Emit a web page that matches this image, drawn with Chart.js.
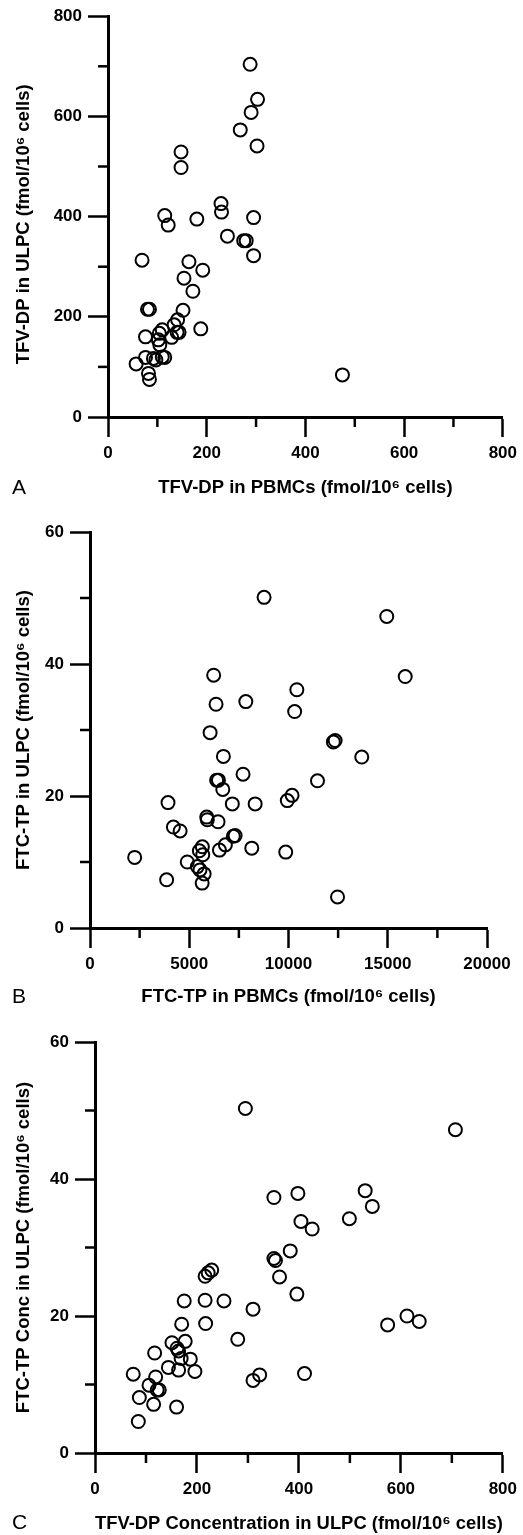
<!DOCTYPE html>
<html>
<head>
<meta charset="utf-8">
<script src="https://cdn.jsdelivr.net/npm/chart.js@4.4.1/dist/chart.umd.min.js"></script>
<style>
  body { margin: 0; background: #fff; }
  .panel { position: absolute; left: 0; width: 523px; }
  .letter { position: absolute; left: 12px; font: 21px "Liberation Sans", Arial, sans-serif; color: #000; }
</style>
</head>
<body>
<div class="panel" style="top:0;height:505px"><canvas id="chartA" width="523" height="505"></canvas></div>
<div class="panel" style="top:505px;height:505px"><canvas id="chartB" width="523" height="505"></canvas></div>
<div class="panel" style="top:1010px;height:525px"><canvas id="chartC" width="523" height="525"></canvas></div>
<div class="letter" style="top:475px">A</div>
<div class="letter" style="top:984px">B</div>
<div class="letter" style="top:1510px">C</div>
<script>
// Panel A: TFV-DP, PBMCs vs ULPC
const aPbmc = [288, 303, 290, 268, 302, 148, 148, 229, 230, 115, 122, 180, 295, 242, 275, 280, 295, 69, 164, 192, 154, 172, 80, 84, 152, 141, 134, 188, 140, 144, 110, 104, 129, 76, 102, 105, 110, 115, 76, 92, 97, 57, 82, 84, 475];
const aUlpc = [704, 634, 608, 573, 541, 529, 498, 426, 409, 402, 383, 395, 398, 361, 352, 352, 322, 313, 310, 293, 277, 251, 215, 215, 213, 194, 184, 176, 169, 169, 174, 167, 159, 160, 154, 144, 120, 119, 119, 117, 114, 106, 87, 75, 84];

// Panel B: FTC-TP, PBMCs vs ULPC
const bPbmc = [8770, 14950, 15880, 6230, 10420, 6350, 7850, 10310, 6050, 12260, 12350, 6720, 13690, 7710, 6380, 6470, 11460, 6690, 3930, 7170, 8320, 9940, 10180, 5880, 5910, 6450, 4200, 4540, 7220, 7310, 6820, 5660, 5510, 6520, 8150, 9860, 5680, 2250, 4900, 5410, 5540, 5750, 3860, 5650, 12470];
const bUlpc = [50.1, 47.2, 38.1, 38.3, 36.1, 33.9, 34.3, 32.8, 29.6, 28.2, 28.4, 26.0, 25.9, 23.3, 22.4, 22.4, 22.3, 21.0, 19.0, 18.8, 18.8, 19.3, 20.1, 16.8, 16.4, 16.1, 15.3, 14.7, 13.9, 14.0, 12.6, 12.3, 11.7, 11.8, 12.1, 11.5, 11.1, 10.7, 10.0, 9.3, 8.8, 8.2, 7.3, 6.8, 4.7];

// Panel C: TFV-DP vs FTC-TP, both in ULPC
const cTfv = [295, 707, 398, 530, 351, 544, 404, 426, 499, 383, 351, 354, 216, 222, 229, 362, 396, 175, 216, 253, 310, 612, 636, 574, 170, 217, 280, 151, 177, 161, 164, 117, 169, 187, 144, 164, 196, 75, 119, 411, 323, 310, 106, 122, 126, 87, 115, 160, 85];
const cFtc = [50.3, 47.2, 37.9, 38.3, 37.3, 36.0, 33.8, 32.7, 34.2, 29.5, 28.4, 28.1, 25.8, 26.3, 26.7, 25.7, 23.2, 22.2, 22.3, 22.2, 21.0, 20.0, 19.2, 18.7, 18.8, 18.9, 16.6, 16.1, 16.3, 15.3, 14.9, 14.6, 13.8, 13.7, 12.5, 12.1, 11.9, 11.5, 11.1, 11.6, 11.4, 10.6, 9.9, 9.2, 9.2, 8.1, 7.1, 6.7, 4.6];

const FONT = '"Liberation Sans", Arial, sans-serif';

// short ticks halfway between the labelled ones
const minorTicks = {
  id: 'minorTicks',
  afterDraw(chart) {
    const ctx = chart.ctx;
    ctx.save();
    ctx.strokeStyle = '#000';
    ctx.lineWidth = 2.5;
    ['x', 'y'].forEach(id => {
      const s = chart.scales[id];
      for (let i = 0; i < s.ticks.length - 1; i++) {
        const p = s.getPixelForValue((s.ticks[i].value + s.ticks[i + 1].value) / 2);
        ctx.beginPath();
        if (id === 'x') { ctx.moveTo(p, s.top); ctx.lineTo(p, s.top + 10); }
        else { ctx.moveTo(s.right, p); ctx.lineTo(s.right - 10, p); }
        ctx.stroke();
      }
    });
    ctx.restore();
  }
};

function axis(max, step, title, titlePad, extra) {
  return Object.assign({
    type: 'linear',
    min: 0,
    max: max,
    border: { display: true, color: '#000', width: 3 },
    grid: { drawOnChartArea: false, drawTicks: true, tickLength: 20, tickWidth: 2.5, tickColor: '#000' },
    ticks: {
      stepSize: step, color: '#000', padding: 6,
      font: { family: FONT, size: 17, weight: 'bold' },
      callback: v => String(v)
    },
    title: {
      display: true, text: title, color: '#000', padding: titlePad,
      font: { family: FONT, size: 18.5, weight: 'bold' }
    }
  }, extra);
}

function makePanel(id, xs, ys, o) {
  return new Chart(id, {
    type: 'scatter',
    data: {
      datasets: [{
        data: xs.map((x, i) => ({ x: x, y: ys[i] })),
        pointStyle: 'circle',
        pointRadius: 6.5,
        pointBorderWidth: 2,
        borderColor: '#000',
        backgroundColor: 'rgba(0,0,0,0)'
      }]
    },
    options: {
      responsive: false,
      animation: false,
      layout: { padding: { top: o.top, right: o.right, left: 0, bottom: 0 } },
      plugins: { legend: { display: false }, tooltip: { enabled: false } },
      scales: {
        x: axis(o.xMax, o.xStep, o.xTitle, { top: 4, bottom: o.xTitlePad }, {
          afterFit: s => { s.height = o.xHeight; }
        }),
        y: axis(o.yMax, o.yStep, o.yTitle, { top: 13, bottom: 4 }, {
          afterFit: s => { s.width = o.yWidth; }
        })
      }
    },
    plugins: [minorTicks]
  });
}

makePanel('chartA', aPbmc, aUlpc, {
  top: 16, right: 14, xHeight: 88, yWidth: 108, xTitlePad: 6,
  xMax: 800, xStep: 200, xTitle: 'TFV-DP in PBMCs (fmol/10\u2076 cells)',
  yMax: 800, yStep: 200, yTitle: 'TFV-DP in ULPC (fmol/10\u2076 cells)   '
});

makePanel('chartB', bPbmc, bUlpc, {
  top: 27, right: 36, xHeight: 82, yWidth: 90, xTitlePad: 2,
  xMax: 20000, xStep: 5000, xTitle: 'FTC-TP in PBMCs (fmol/10\u2076 cells)',
  yMax: 60, yStep: 20, yTitle: 'FTC-TP in ULPC (fmol/10\u2076 cells)'
});

makePanel('chartC', cTfv, cFtc, {
  top: 32, right: 14, xHeight: 82, yWidth: 95, xTitlePad: 0,
  xMax: 800, xStep: 200, xTitle: 'TFV-DP Concentration in ULPC (fmol/10\u2076 cells)',
  yMax: 60, yStep: 20, yTitle: 'FTC-TP Conc in ULPC (fmol/10\u2076 cells)'
});
</script>
</body>
</html>
